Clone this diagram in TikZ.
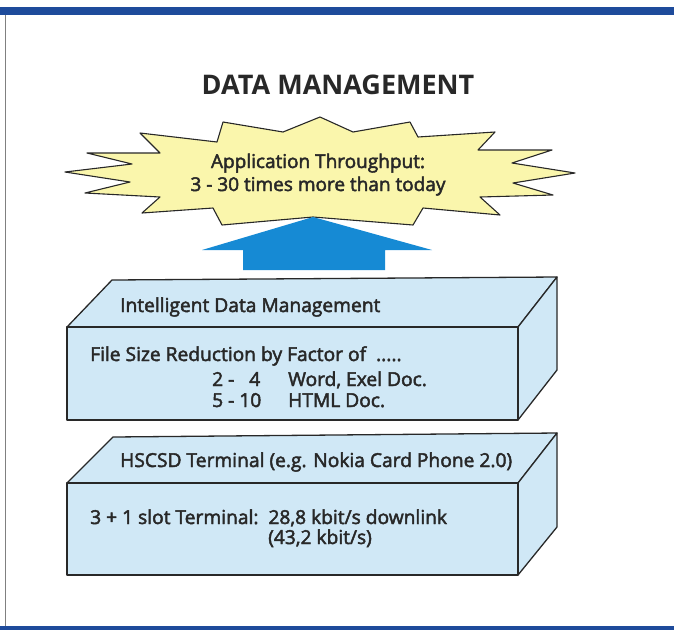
\documentclass[tikz,border=0pt]{standalone}
\usepackage{fontspec}
\setmainfont{Open Sans}[FakeBold=2.4]
\newfontfamily\titlefont{Open Sans}
\definecolor{barblue}{RGB}{30,75,155}
\definecolor{boxfill}{RGB}{208,232,246}
\definecolor{starfill}{RGB}{250,246,172}
\definecolor{arrowblue}{RGB}{22,138,212}
\definecolor{ink}{RGB}{40,40,40}
\tikzset{
  outline/.style={draw=ink, line width=1.3pt, line join=round},
  boxface/.style={outline, fill=boxfill},
  lbl/.style={anchor=base west, inner sep=0pt, text=ink, font=\fontsize{19.2}{22}\selectfont},
  startext/.style={anchor=base, inner sep=0pt, text=ink, font=\fontsize{19}{22}\selectfont},
}
\begin{document}
\begin{tikzpicture}[x=1pt,y=-1pt]
\useasboundingbox (0,0) rectangle (674,630);
% frame
\fill[barblue] (0,7) rectangle (674,15);
\fill[barblue] (0,626) rectangle (674,630);
\draw[gray, line width=0.8pt] (5,15) -- (5,626);
% title
\node[anchor=base, inner sep=0pt, text=ink, font=\fontsize{27}{30}\titlefont\bfseries] (title) at (338,94) {DATA MANAGEMENT};
% starburst
\draw[outline, line width=1.1pt, fill=starfill] (140,133) -- (160,153) -- (87,153) -- (132,164) -- (65,172) -- (130,182) -- (85,193) -- (160,197) -- (142,213) -- (213,208) -- (222,225) -- (313,217) -- (413,225) -- (423,208) -- (500,215) -- (480,197) -- (553,195) -- (513,183) -- (575,173) -- (512,163) -- (552,150) -- (478,150) -- (495,132) -- (418,137) -- (410,122) -- (353,132) -- (320,117) -- (283,132) -- (223,122) -- (217,142) -- cycle;
\node[startext] (thr1) at (318,168) {Application Throughput:};
\node[startext] (thr2) at (318,191) {3 - 30 times more than today};
% arrow
\fill[arrowblue] (313,217) -- (432,250) -- (385,250) -- (385,270) -- (243,270) -- (243,250) -- (202,250) -- cycle;
% box 1
\draw[boxface] (67,327) -- (112,280) -- (557,277) -- (518,327) -- cycle;
\draw[boxface] (518,327) -- (557,277) -- (557,370) -- (518,420) -- cycle;
\draw[boxface] (67,327) rectangle (518,420);
\node[lbl] (idm) at (120,312) {Intelligent Data Management};
\node[lbl] (fsr) at (90,361) {File Size Reduction by Factor of \ .....};
\node[lbl] (r1) at (212,386) {2 -\ \ \ 4};
\node[lbl] (d1) at (288,386) {Word, Exel Doc.};
\node[lbl] (r2) at (212,407) {5 - 10};
\node[lbl] (d2) at (288,407) {HTML Doc.};
% box 2
\draw[boxface] (67,483) -- (113,437) -- (557,433) -- (518,483) -- cycle;
\draw[boxface] (518,483) -- (557,433) -- (557,527) -- (518,575) -- cycle;
\draw[boxface] (67,483) rectangle (518,575);
\node[lbl] (hscsd) at (120,467) {HSCSD Terminal (e.g. Nokia Card Phone 2.0)};
\node[lbl] (slot) at (90,524) {3 + 1 slot Terminal:\ \ 28,8 kbit/s downlink};
\node[lbl] (rate) at (268,544) {(43,2 kbit/s)};
\end{tikzpicture}
\end{document}
